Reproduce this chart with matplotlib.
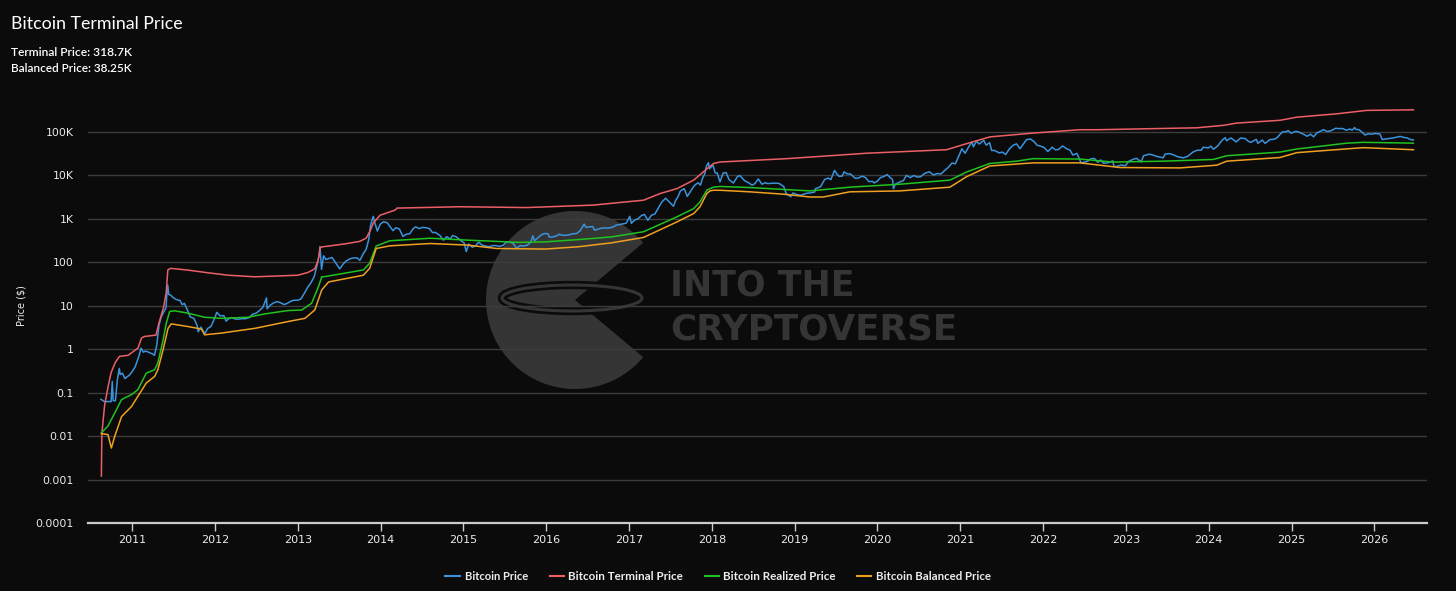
import matplotlib
matplotlib.use("Agg")
import matplotlib.pyplot as plt
from matplotlib.patches import Wedge, Ellipse
from matplotlib.lines import Line2D
from matplotlib.ticker import NullLocator, FixedLocator, FixedFormatter
import pandas as pd

# ---------------- data ----------------
title = "Bitcoin Terminal Price"
subtitle_lines = ["Terminal Price: 318.7K", "Balanced Price: 38.25K"]
series_names = ["Bitcoin Price", "Bitcoin Terminal Price",
                "Bitcoin Realized Price", "Bitcoin Balanced Price"]
y_tick_values = [1e-4, 1e-3, 1e-2, 1e-1, 1, 10, 100, 1e3, 1e4, 1e5]
y_tick_labels = ["0.0001", "0.001", "0.01", "0.1", "1", "10", "100", "1K", "10K", "100K"]
x_tick_years = list(range(2011, 2027))

price = [
    ("2010-08-17", 0.07), ("2010-09-01", 0.062), ("2010-09-15", 0.062), ("2010-10-01", 0.062),
    ("2010-10-06", 0.18), ("2010-10-10", 0.065), ("2010-10-20", 0.065), ("2010-10-28", 0.19),
    ("2010-11-06", 0.36), ("2010-11-10", 0.26), ("2010-11-20", 0.28), ("2010-12-01", 0.21),
    ("2010-12-10", 0.23), ("2010-12-20", 0.25), ("2011-01-01", 0.30), ("2011-01-15", 0.39),
    ("2011-02-01", 0.70), ("2011-02-10", 1.05), ("2011-02-20", 0.85), ("2011-03-01", 0.90),
    ("2011-03-15", 0.85), ("2011-03-31", 0.78), ("2011-04-10", 0.72), ("2011-04-20", 1.2),
    ("2011-04-30", 3.5), ("2011-05-10", 5.5), ("2011-05-20", 7.0), ("2011-05-31", 8.8),
    ("2011-06-03", 16), ("2011-06-08", 29.6), ("2011-06-12", 18), ("2011-06-20", 17.5),
    ("2011-07-01", 15.4), ("2011-07-15", 13.8), ("2011-08-01", 13.1), ("2011-08-10", 10.5),
    ("2011-08-20", 11.3), ("2011-09-01", 8.2), ("2011-09-15", 5.5), ("2011-10-01", 5.1),
    ("2011-10-15", 3.5), ("2011-10-20", 2.5), ("2011-11-01", 3.2), ("2011-11-18", 2.25),
    ("2011-12-01", 3.0), ("2011-12-15", 3.3), ("2012-01-01", 5.2), ("2012-01-10", 7.0),
    ("2012-01-25", 5.8), ("2012-02-10", 5.9), ("2012-02-20", 4.4), ("2012-03-01", 4.9),
    ("2012-03-15", 5.3), ("2012-04-01", 4.9), ("2012-04-15", 4.9), ("2012-05-01", 5.0),
    ("2012-05-15", 5.0), ("2012-06-01", 5.3), ("2012-06-15", 6.3), ("2012-07-01", 6.7),
    ("2012-07-15", 7.6), ("2012-08-01", 9.3), ("2012-08-16", 15), ("2012-08-19", 8.5),
    ("2012-09-01", 10.2), ("2012-09-15", 11.4), ("2012-10-01", 12.4), ("2012-10-15", 11.8),
    ("2012-11-01", 10.6), ("2012-11-15", 11.2), ("2012-12-01", 12.6), ("2012-12-15", 13.3),
    ("2013-01-01", 13.3), ("2013-01-15", 14.2), ("2013-02-01", 20), ("2013-02-15", 27),
    ("2013-03-01", 34), ("2013-03-15", 47), ("2013-03-28", 89), ("2013-04-05", 142),
    ("2013-04-09", 230), ("2013-04-16", 68), ("2013-04-25", 140), ("2013-05-05", 115),
    ("2013-05-20", 122), ("2013-06-01", 128), ("2013-06-15", 100), ("2013-07-05", 70),
    ("2013-07-20", 90), ("2013-08-01", 105), ("2013-08-20", 120), ("2013-09-05", 125),
    ("2013-09-20", 125), ("2013-10-02", 110), ("2013-10-15", 150), ("2013-10-30", 200),
    ("2013-11-10", 330), ("2013-11-18", 700), ("2013-11-30", 1130), ("2013-12-07", 800),
    ("2013-12-18", 520), ("2013-12-31", 750), ("2014-01-15", 850), ("2014-01-31", 800),
    ("2014-02-10", 680), ("2014-02-25", 530), ("2014-03-10", 620), ("2014-03-25", 580),
    ("2014-04-10", 390), ("2014-04-25", 440), ("2014-05-10", 450), ("2014-05-25", 590),
    ("2014-06-05", 650), ("2014-06-20", 590), ("2014-07-05", 630), ("2014-07-20", 620),
    ("2014-08-05", 590), ("2014-08-18", 480), ("2014-09-01", 480), ("2014-09-20", 410),
    ("2014-10-05", 320), ("2014-10-20", 385), ("2014-11-05", 340), ("2014-11-15", 410),
    ("2014-12-01", 380), ("2014-12-20", 320), ("2015-01-05", 275), ("2015-01-14", 175),
    ("2015-01-25", 260), ("2015-02-10", 220), ("2015-02-25", 240), ("2015-03-10", 290),
    ("2015-03-25", 245), ("2015-04-10", 235), ("2015-04-25", 225), ("2015-05-10", 240),
    ("2015-05-25", 240), ("2015-06-10", 230), ("2015-06-25", 243), ("2015-07-10", 290),
    ("2015-07-25", 290), ("2015-08-10", 265), ("2015-08-24", 210), ("2015-09-10", 240),
    ("2015-09-25", 235), ("2015-10-10", 245), ("2015-10-25", 285), ("2015-11-04", 400),
    ("2015-11-11", 310), ("2015-11-25", 360), ("2015-12-10", 420), ("2015-12-25", 455),
    ("2016-01-10", 450), ("2016-01-15", 375), ("2016-01-30", 380), ("2016-02-15", 400),
    ("2016-02-28", 435), ("2016-03-15", 415), ("2016-03-31", 415), ("2016-04-15", 430),
    ("2016-04-30", 450), ("2016-05-15", 455), ("2016-05-31", 530), ("2016-06-17", 750),
    ("2016-06-25", 630), ("2016-07-10", 650), ("2016-07-25", 655), ("2016-08-02", 540),
    ("2016-08-20", 580), ("2016-09-05", 610), ("2016-09-20", 610), ("2016-10-05", 610),
    ("2016-10-25", 650), ("2016-11-05", 710), ("2016-11-20", 730), ("2016-12-05", 760),
    ("2016-12-20", 790), ("2017-01-04", 1130), ("2017-01-11", 780), ("2017-01-25", 920),
    ("2017-02-10", 1000), ("2017-02-25", 1180), ("2017-03-10", 1250), ("2017-03-25", 920),
    ("2017-04-10", 1200), ("2017-04-25", 1280), ("2017-05-10", 1750), ("2017-05-25", 2400),
    ("2017-06-11", 2950), ("2017-06-25", 2500), ("2017-07-16", 1930), ("2017-07-25", 2600),
    ("2017-08-05", 3200), ("2017-08-15", 4300), ("2017-09-01", 4900), ("2017-09-15", 3250),
    ("2017-09-30", 4350), ("2017-10-12", 5400), ("2017-10-20", 6000), ("2017-11-01", 6700),
    ("2017-11-12", 5900), ("2017-11-20", 8200), ("2017-12-01", 10900), ("2017-12-08", 16000),
    ("2017-12-17", 19400), ("2017-12-22", 14000), ("2018-01-06", 17100), ("2018-01-16", 11300),
    ("2018-01-25", 11200), ("2018-02-06", 7000), ("2018-02-20", 11200), ("2018-03-05", 11500),
    ("2018-03-18", 7900), ("2018-04-06", 6600), ("2018-04-25", 9400), ("2018-05-05", 9800),
    ("2018-05-25", 7500), ("2018-06-10", 6800), ("2018-06-28", 5900), ("2018-07-10", 6400),
    ("2018-07-25", 8200), ("2018-08-10", 6200), ("2018-08-25", 6700), ("2018-09-05", 6400),
    ("2018-09-20", 6500), ("2018-10-10", 6550), ("2018-10-25", 6450), ("2018-11-14", 5500),
    ("2018-11-25", 3800), ("2018-12-15", 3200), ("2018-12-25", 3900), ("2019-01-10", 3600),
    ("2019-01-28", 3450), ("2019-02-10", 3650), ("2019-02-25", 3850), ("2019-03-10", 3900),
    ("2019-03-31", 4100), ("2019-04-03", 4900), ("2019-04-25", 5400), ("2019-05-14", 8000),
    ("2019-05-30", 8600), ("2019-06-10", 7900), ("2019-06-26", 12900), ("2019-07-05", 11000),
    ("2019-07-16", 9400), ("2019-07-30", 9500), ("2019-08-07", 11900), ("2019-08-20", 10800),
    ("2019-09-05", 10600), ("2019-09-25", 8500), ("2019-10-10", 8600), ("2019-10-26", 9500),
    ("2019-11-10", 8800), ("2019-11-25", 7100), ("2019-12-10", 7200), ("2019-12-18", 6650),
    ("2019-12-31", 7200), ("2020-01-15", 8800), ("2020-01-31", 9400), ("2020-02-13", 10300),
    ("2020-02-28", 8700), ("2020-03-08", 8000), ("2020-03-12", 4900), ("2020-03-20", 6200),
    ("2020-04-05", 6800), ("2020-04-25", 7500), ("2020-05-08", 9900), ("2020-05-25", 8800),
    ("2020-06-10", 9800), ("2020-06-27", 9000), ("2020-07-10", 9250), ("2020-07-28", 11000),
    ("2020-08-17", 12000), ("2020-09-05", 10100), ("2020-09-20", 10900), ("2020-10-08", 10700),
    ("2020-10-25", 13000), ("2020-11-10", 15300), ("2020-11-25", 19000), ("2020-12-10", 18300),
    ("2020-12-20", 23900), ("2021-01-08", 40500), ("2021-01-22", 32000), ("2021-02-08", 46000),
    ("2021-02-21", 57500), ("2021-02-28", 45000), ("2021-03-13", 61000), ("2021-03-25", 52000),
    ("2021-04-14", 63500), ("2021-04-25", 49000), ("2021-05-10", 56000), ("2021-05-19", 37000),
    ("2021-06-01", 37000), ("2021-06-22", 32500), ("2021-07-05", 34000), ("2021-07-20", 29800),
    ("2021-08-05", 40000), ("2021-08-22", 49000), ("2021-09-06", 52500), ("2021-09-21", 40700),
    ("2021-10-05", 51000), ("2021-10-20", 66000), ("2021-11-08", 67500), ("2021-11-25", 57000),
    ("2021-12-05", 49000), ("2021-12-20", 46700), ("2022-01-05", 43500), ("2022-01-22", 35000),
    ("2022-02-10", 44000), ("2022-02-24", 38300), ("2022-03-10", 39000), ("2022-03-28", 47000),
    ("2022-04-15", 40500), ("2022-04-30", 37700), ("2022-05-12", 29000), ("2022-05-30", 31800),
    ("2022-06-18", 19000), ("2022-06-30", 19900), ("2022-07-15", 20800), ("2022-07-30", 23800),
    ("2022-08-15", 24300), ("2022-08-30", 19800), ("2022-09-12", 22400), ("2022-09-25", 18800),
    ("2022-10-10", 19100), ("2022-10-28", 20600), ("2022-11-05", 21300), ("2022-11-09", 15900),
    ("2022-11-21", 15800), ("2022-12-10", 17100), ("2022-12-30", 16550), ("2023-01-14", 20900),
    ("2023-01-30", 22800), ("2023-02-16", 24500), ("2023-03-10", 20200), ("2023-03-20", 28000),
    ("2023-04-14", 30400), ("2023-04-30", 29200), ("2023-05-15", 27200), ("2023-06-15", 25100),
    ("2023-06-23", 30600), ("2023-07-13", 31400), ("2023-07-30", 29300), ("2023-08-17", 26600),
    ("2023-09-11", 25100), ("2023-09-30", 27000), ("2023-10-24", 34000), ("2023-11-10", 37300),
    ("2023-11-30", 37700), ("2023-12-08", 44000), ("2023-12-31", 42300), ("2024-01-11", 46500),
    ("2024-01-22", 39500), ("2024-02-10", 47100), ("2024-02-28", 62400), ("2024-03-14", 73100),
    ("2024-03-20", 62000), ("2024-04-08", 71600), ("2024-04-20", 64900), ("2024-05-01", 58200),
    ("2024-05-21", 71400), ("2024-06-10", 69600), ("2024-06-24", 60200), ("2024-07-05", 56700),
    ("2024-07-29", 66800), ("2024-08-05", 54000), ("2024-08-25", 64100), ("2024-09-06", 53900),
    ("2024-09-27", 65800), ("2024-10-15", 67000), ("2024-10-29", 72700), ("2024-11-12", 88000),
    ("2024-11-22", 98900), ("2024-12-05", 98800), ("2024-12-17", 106100), ("2024-12-30", 92300),
    ("2025-01-20", 102200), ("2025-02-03", 97700), ("2025-02-25", 86000), ("2025-03-10", 78500),
    ("2025-03-25", 87500), ("2025-04-08", 76300), ("2025-04-22", 93400), ("2025-05-10", 104000),
    ("2025-05-22", 111600), ("2025-06-05", 101600), ("2025-06-20", 103300), ("2025-07-14", 119800),
    ("2025-07-30", 117900), ("2025-08-14", 118400), ("2025-08-30", 108300), ("2025-09-15", 115300),
    ("2025-09-25", 109000), ("2025-10-06", 124700), ("2025-10-11", 113200), ("2025-10-25", 111500),
    ("2025-11-04", 101000), ("2025-11-21", 84000), ("2025-12-05", 89500), ("2025-12-20", 88000),
    ("2026-01-05", 91000), ("2026-01-25", 89000), ("2026-02-05", 66000), ("2026-02-20", 68000),
    ("2026-03-10", 70000), ("2026-03-25", 72000), ("2026-04-10", 75000), ("2026-04-25", 78000),
    ("2026-05-10", 74000), ("2026-05-25", 72000), ("2026-06-10", 66000), ("2026-06-22", 64500),
]

terminal = [
    ("2010-08-19", 0.0012), ("2010-08-21", 0.011), ("2010-09-02", 0.05), ("2010-09-18", 0.14),
    ("2010-10-01", 0.29), ("2010-10-20", 0.5), ("2010-11-07", 0.68), ("2010-12-15", 0.72),
    ("2011-01-27", 1.05), ("2011-02-12", 1.8), ("2011-02-25", 1.95), ("2011-04-17", 2.1),
    ("2011-04-30", 4.0), ("2011-05-20", 9), ("2011-06-01", 20), ("2011-06-08", 66),
    ("2011-06-20", 72), ("2011-09-01", 66), ("2011-12-01", 57), ("2012-03-01", 50),
    ("2012-06-25", 46), ("2012-10-01", 48), ("2013-01-01", 50), ("2013-02-15", 58),
    ("2013-03-17", 70), ("2013-04-01", 110), ("2013-04-10", 215), ("2013-04-20", 225),
    ("2013-06-01", 240), ("2013-08-01", 265), ("2013-10-01", 300), ("2013-10-30", 357),
    ("2013-11-18", 550), ("2013-11-30", 790), ("2013-12-30", 1200), ("2014-03-06", 1570),
    ("2014-03-15", 1750), ("2014-12-17", 1880), ("2015-10-08", 1800), ("2016-07-27", 2050),
    ("2017-03-06", 2660), ("2017-05-19", 3800), ("2017-07-31", 4900), ("2017-10-13", 7700),
    ("2017-12-11", 14100), ("2018-01-09", 18600), ("2018-02-07", 20100), ("2018-11-28", 24000),
    ("2019-11-15", 32000), ("2020-11-01", 38500), ("2021-01-28", 53000), ("2021-05-11", 76000),
    ("2021-11-18", 93000), ("2022-06-12", 111000), ("2022-08-25", 111000), ("2023-11-10", 123000),
    ("2024-03-06", 140000), ("2024-05-04", 158000), ("2024-11-11", 183000), ("2025-01-24", 216000),
    ("2025-07-19", 258000), ("2025-11-28", 309000), ("2026-06-22", 318700),
]

realized = [
    ("2010-08-19", 0.0118), ("2010-09-17", 0.017), ("2010-10-17", 0.034), ("2010-11-16", 0.069),
    ("2010-12-30", 0.09), ("2011-01-27", 0.117), ("2011-03-05", 0.28), ("2011-04-11", 0.335),
    ("2011-04-25", 0.48), ("2011-05-18", 1.6), ("2011-06-01", 3.9), ("2011-06-16", 7.3),
    ("2011-07-08", 7.6), ("2011-09-05", 6.7), ("2011-11-17", 5.4), ("2012-01-29", 5.1),
    ("2012-05-27", 5.4), ("2012-08-09", 6.45), ("2012-11-19", 7.7), ("2013-01-18", 7.9),
    ("2013-03-03", 11.3), ("2013-04-02", 27), ("2013-04-17", 46), ("2013-04-26", 46),
    ("2013-10-17", 66), ("2013-11-14", 94), ("2013-12-13", 235), ("2014-02-11", 310),
    ("2014-08-08", 355), ("2015-01-18", 321), ("2015-09-02", 285), ("2015-12-29", 293),
    ("2016-05-23", 330), ("2016-10-18", 382), ("2017-03-06", 500), ("2017-07-31", 1100),
    ("2017-10-13", 1700), ("2017-11-10", 2430), ("2017-12-10", 4500), ("2017-12-24", 4900),
    ("2018-01-08", 5300), ("2018-02-06", 5500), ("2018-06-18", 5200), ("2018-11-12", 4700),
    ("2019-03-10", 4350), ("2019-09-01", 5300), ("2020-04-10", 6200), ("2020-11-16", 7700),
    ("2021-01-28", 11800), ("2021-05-11", 18600), ("2021-09-06", 21000), ("2021-11-18", 24000),
    ("2022-06-12", 23500), ("2022-11-06", 20000), ("2023-06-15", 21000), ("2024-01-22", 23000),
    ("2024-03-21", 28000), ("2024-11-11", 34000), ("2025-01-24", 40000), ("2025-09-01", 54500),
    ("2025-11-13", 57000), ("2026-06-22", 54500),
]

balanced = [
    ("2010-08-19", 0.0114), ("2010-09-17", 0.0108), ("2010-10-02", 0.0053), ("2010-10-17", 0.0099),
    ("2010-11-16", 0.028), ("2010-12-30", 0.048), ("2011-01-27", 0.082), ("2011-03-05", 0.166),
    ("2011-04-11", 0.235), ("2011-04-25", 0.335), ("2011-05-18", 0.96), ("2011-06-09", 3.0),
    ("2011-06-23", 3.8), ("2011-09-05", 3.3), ("2011-11-03", 2.9), ("2011-11-17", 2.13),
    ("2012-01-29", 2.33), ("2012-06-26", 3.0), ("2012-11-19", 4.3), ("2013-02-02", 5.1),
    ("2013-03-17", 7.9), ("2013-04-17", 23), ("2013-05-17", 35), ("2013-10-17", 50),
    ("2013-11-14", 72), ("2013-12-13", 206), ("2014-02-11", 237), ("2014-08-08", 268),
    ("2015-01-18", 247), ("2015-05-28", 206), ("2015-12-29", 200), ("2016-05-23", 226),
    ("2016-10-18", 279), ("2017-03-06", 370), ("2017-07-31", 840), ("2017-10-13", 1310),
    ("2017-11-10", 1880), ("2017-12-10", 3800), ("2017-12-24", 4350), ("2018-01-08", 4500),
    ("2018-02-06", 4500), ("2018-06-18", 4140), ("2018-11-12", 3660), ("2019-03-10", 3150),
    ("2019-05-08", 3150), ("2019-09-01", 4140), ("2020-04-10", 4350), ("2020-11-16", 5300),
    ("2021-01-28", 9200), ("2021-05-11", 16300), ("2021-11-18", 19200), ("2022-06-12", 19200),
    ("2022-12-06", 15000), ("2023-08-28", 14700), ("2024-02-06", 17000), ("2024-03-21", 21000),
    ("2024-11-11", 25500), ("2025-01-24", 33000), ("2025-11-13", 43000), ("2026-06-22", 38500),
]

# ---------------- style ----------------
BG = "#0b0b0b"
GRID = "#3c3c3c"
AXIS = "#cccccc"
TXT = "#ececec"
WM = "#353535"
colors = ["#3a93dc", "#ec5f67", "#1fc21f", "#f0a020"]
UI_FONT = "Lato"

W, H = 1456, 591
fig = plt.figure(figsize=(W / 100, H / 100), dpi=100, facecolor=BG)

# overlay axes in pixel coordinates (background / watermark / texts)
bg = fig.add_axes([0, 0, 1, 1])
bg.set_xlim(0, W)
bg.set_ylim(H, 0)
bg.axis("off")
bg.set_zorder(0)

# watermark logo
bg.add_patch(Wedge((575, 300), 89, 40, 320, facecolor=WM, edgecolor="none"))
bg.add_patch(Ellipse((572, 298), 140, 26, facecolor="none", edgecolor=BG, lw=6))
bg.add_patch(Ellipse((572, 298), 140, 26, facecolor="none", edgecolor=WM, lw=2.2))

renderer = fig.canvas.get_renderer()


def fit_width(t, width_px):
    bb = t.get_window_extent(renderer)
    if bb.width > 0:
        t.set_fontsize(t.get_fontsize() * width_px / bb.width)


t1 = bg.text(670, 295, "INTO THE", color=WM, fontsize=27, fontweight="bold",
             family="DejaVu Sans", va="baseline", ha="left")
fit_width(t1, 185)
t2 = bg.text(670, 340, "CRYPTOVERSE", color=WM, fontsize=27, fontweight="bold",
             family="DejaVu Sans", va="baseline", ha="left")
fit_width(t2, 288)

# title + subtitles
tt = bg.text(11, 29, title, color="white", fontsize=13, family=UI_FONT,
             va="baseline", ha="left")
fit_width(tt, 171)
for i, s in enumerate(subtitle_lines):
    st = bg.text(11, 56 + i * 16.5, s, color="white", fontsize=8, family=UI_FONT,
                 fontweight="semibold", va="baseline", ha="left")
    fit_width(st, 121)

# y-axis title
bg.text(22, 306, "Price ($)", color=TXT, fontsize=7, rotation=90,
        va="center", ha="center", family="DejaVu Sans")

# legend (manual placement)
leg_lines = [(445, 460), (549.5, 564), (704.5, 719), (856.5, 871)]
leg_text = [(465, 64), (568.5, 115), (723, 112.6), (875.5, 115)]
for (x0, x1), (tx, tw), name, c in zip(leg_lines, leg_text, series_names, colors):
    bg.add_line(Line2D([x0, x1], [576, 576], color=c, lw=1.5))
    lt = bg.text(tx, 576, name, color=TXT, fontsize=8, fontweight="bold",
                 family=UI_FONT, va="center", ha="left")
    fit_width(lt, tw)

# ---------------- main chart ----------------
left, right = 88 / W, 1427 / W
bottom, top = 1 - 523 / H, 1 - 99.1 / H
ax = fig.add_axes([left, bottom, right - left, top - bottom])
ax.set_facecolor("none")
ax.set_zorder(1)

for data, c, z in zip([price, terminal, realized, balanced], colors, [3, 4, 5, 6]):
    d = pd.to_datetime([p[0] for p in data])
    v = [p[1] for p in data]
    ax.plot(d, v, color=c, lw=1.1, zorder=z, solid_joinstyle="round")

ax.set_yscale("log")
ax.set_ylim(1e-4, 10 ** 5.75)
ax.yaxis.set_major_locator(FixedLocator(y_tick_values))
ax.yaxis.set_major_formatter(FixedFormatter(y_tick_labels))
ax.yaxis.set_minor_locator(NullLocator())
ax.grid(axis="y", color=GRID, lw=1)

ax.set_xlim(pd.Timestamp("2010-06-21"), pd.Timestamp("2026-08-21"))
ax.set_xticks([pd.Timestamp(f"{y}-01-01") for y in x_tick_years])
ax.set_xticklabels([str(y) for y in x_tick_years])
ax.xaxis.set_minor_locator(NullLocator())

for s in ["top", "right", "left"]:
    ax.spines[s].set_visible(False)
ax.spines["bottom"].set_color(AXIS)
ax.spines["bottom"].set_linewidth(1.6)

ax.tick_params(axis="x", length=6, width=1, color=AXIS, direction="out",
               labelcolor=TXT, labelsize=8, pad=2.5)
ax.tick_params(axis="y", length=0, labelcolor=TXT, labelsize=7.8, pad=10.5)

fig.savefig("out.png", dpi=100, facecolor=BG)
